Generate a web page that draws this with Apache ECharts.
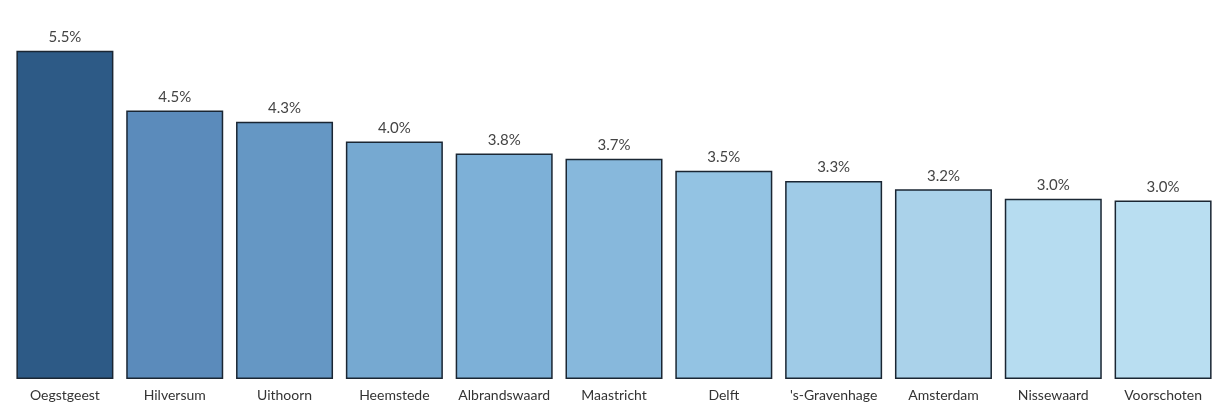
<!DOCTYPE html>
<html>
<head>
<meta charset="utf-8">
<script src="https://cdn.jsdelivr.net/npm/echarts@6/dist/echarts.min.js"></script>
<style>
html,body{margin:0;padding:0;background:#fff;}
#chart{width:1218px;height:408px;}
</style>
</head>
<body>
<div id="chart"></div>
<script>
var categories = ["Oegstgeest","Hilversum","Uithoorn","Heemstede","Albrandswaard","Maastricht","Delft","'s-Gravenhage","Amsterdam","Nissewaard","Voorschoten"];
var values = [5.5, 4.5, 4.31, 3.98, 3.78, 3.69, 3.49, 3.32, 3.18, 3.02, 2.99];
var barColors = ["#2d5a86","#5b8bbb","#6597c4","#76a9d1","#7db0d7","#87b8dc","#93c3e3","#9fcbe7","#aad2ea","#b6dcf0","#b9def1"];

var chart = echarts.init(document.getElementById('chart'), null, {renderer:'canvas'});
chart.setOption({
  animation: false,
  grid: {left: 10, width: 1213, top: 21, bottom: 29, containLabel: false},
  xAxis: {
    type: 'category',
    data: categories,
    axisLine: {show: false},
    axisTick: {show: false},
    axisLabel: {color: '#333', fontFamily: 'Lato, "Open Sans", sans-serif', fontSize: 14, margin: 9, interval: 0}
  },
  yAxis: {
    type: 'value', min: 0, max: 6,
    show: false,
    splitLine: {show: false}
  },
  series: [{
    type: 'bar',
    barWidth: 97,
    data: values.map(function(v, i){ return {value: v, itemStyle: {color: barColors[i]}}; }),
    itemStyle: {borderColor: '#1a2633', borderWidth: 1.5},
    label: {
      show: true, position: 'top', distance: 6,
      color: '#444', fontFamily: 'Lato, "Open Sans", sans-serif', fontSize: 15,
      formatter: function(p){ return p.value.toFixed(1) + '%'; }
    }
  }]
});
</script>
</body>
</html>
